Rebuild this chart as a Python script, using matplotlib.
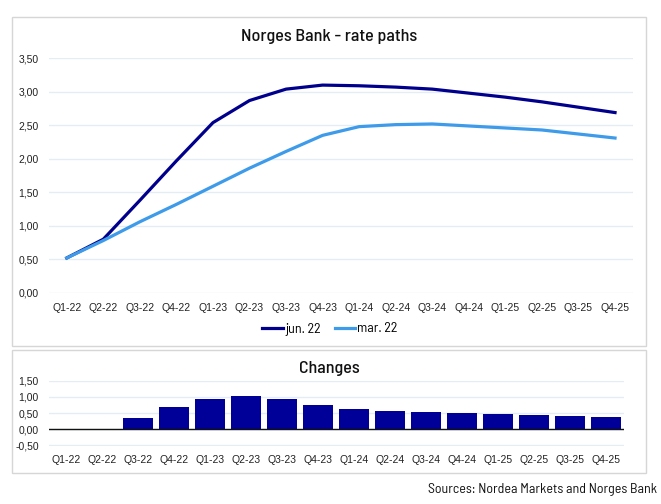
#!/usr/bin/env python3

import numpy as np
import matplotlib
matplotlib.use("Agg")
import matplotlib.pyplot as plt
from matplotlib.patches import Rectangle
from matplotlib.ticker import FuncFormatter

# Data
quarters = ["Q1-22", "Q2-22", "Q3-22", "Q4-22", "Q1-23", "Q2-23", "Q3-23", "Q4-23",
            "Q1-24", "Q2-24", "Q3-24", "Q4-24", "Q1-25", "Q2-25", "Q3-25", "Q4-25"]
jun22 = [0.52, 0.80, 1.38, 1.97, 2.54, 2.87, 3.04, 3.10,
         3.09, 3.07, 3.04, 2.98, 2.92, 2.85, 2.77, 2.69]
mar22 = [0.52, 0.78, 1.06, 1.32, 1.59, 1.86, 2.11, 2.35,
         2.48, 2.51, 2.52, 2.49, 2.46, 2.43, 2.37, 2.31]
changes = [0.00, 0.02, 0.34, 0.68, 0.93, 1.02, 0.93, 0.75,
           0.62, 0.56, 0.53, 0.50, 0.47, 0.44, 0.41, 0.37]

W, H = 661, 504
DARK = "#00008C"
LIGHT = "#3E9BEA"
GRID = "#E4ECF4"
BOX = "#D6D6D6"
TITLE_FONT = ["Barlow Semi Condensed", "DejaVu Sans"]
TICK_FONT = ["Liberation Sans", "DejaVu Sans"]


def px_axes(fig, left, top, right, bottom):
    """Add axes from pixel coordinates (origin at top left)"""
    return fig.add_axes([left / W, 1 - bottom / H, (right - left) / W, (bottom - top) / H])


def px_box(fig, left, top, right, bottom):
    """Draw a light frame around a panel"""
    fig.patches.append(Rectangle((left / W, 1 - bottom / H), (right - left) / W,
                                 (bottom - top) / H, transform=fig.transFigure,
                                 fill=False, edgecolor=BOX, linewidth=1.0))


def style_axes(ax, ymin, ymax, step):
    ax.set_ylim(ymin, ymax)
    ax.set_yticks(np.arange(ymin, ymax + step / 2, step))
    ax.yaxis.set_major_formatter(FuncFormatter(lambda v, _: f"{v:.2f}".replace(".", ",")))
    ax.set_xlim(-0.5, len(quarters) - 0.5)
    ax.set_xticks(range(len(quarters)))
    ax.set_xticklabels(quarters)
    ax.grid(axis="y", color=GRID, linewidth=1.0)
    ax.set_axisbelow(True)
    for s in ax.spines.values():
        s.set_visible(False)
    ax.tick_params(length=0, labelsize=7.5, colors="#222222", pad=7)
    for lab in ax.get_xticklabels() + ax.get_yticklabels():
        lab.set_family(TICK_FONT)


fig = plt.figure(figsize=(W / 100, H / 100), dpi=100)

# Panel frames
px_box(fig, 12, 17, 646, 346)
px_box(fig, 12, 350, 646, 473)

# Rate paths
ax1 = px_axes(fig, 48.5, 58.3, 633.3, 292.8)
x = np.arange(len(quarters))
ax1.plot(x, jun22, color=DARK, linewidth=2.3, label="jun. 22")
ax1.plot(x, mar22, color=LIGHT, linewidth=2.3, label="mar. 22")
style_axes(ax1, 0, 3.5, 0.5)
fig.text(329 / W, 1 - 36 / H, "Norges Bank - rate paths", ha="center", va="center",
         fontsize=13, fontweight="medium", family=TITLE_FONT, color="#111111")
ax1.legend(loc="center", bbox_to_anchor=(330 / W, 1 - 329 / H),
           bbox_transform=fig.transFigure, ncol=2, frameon=False,
           handlelength=1.5, handletextpad=0.15, columnspacing=1.0,
           prop={"family": TITLE_FONT, "size": 10})

# Changes
ax2 = px_axes(fig, 48.5, 380.7, 624, 445.5)
ax2.bar(x, changes, width=0.83, color="#000099")
style_axes(ax2, -0.5, 1.5, 0.5)
ax2.axhline(0, color="#111111", linewidth=1.0)
fig.text(329 / W, 1 - 368 / H, "Changes", ha="center", va="center",
         fontsize=13, fontweight="medium", family=TITLE_FONT, color="#111111")

fig.text(657 / W, 1 - 489.5 / H, "Sources: Nordea Markets and Norges Bank", ha="right",
         va="center", fontsize=10, family=TITLE_FONT, color="#111111")

fig.savefig("out.png", dpi=100)
